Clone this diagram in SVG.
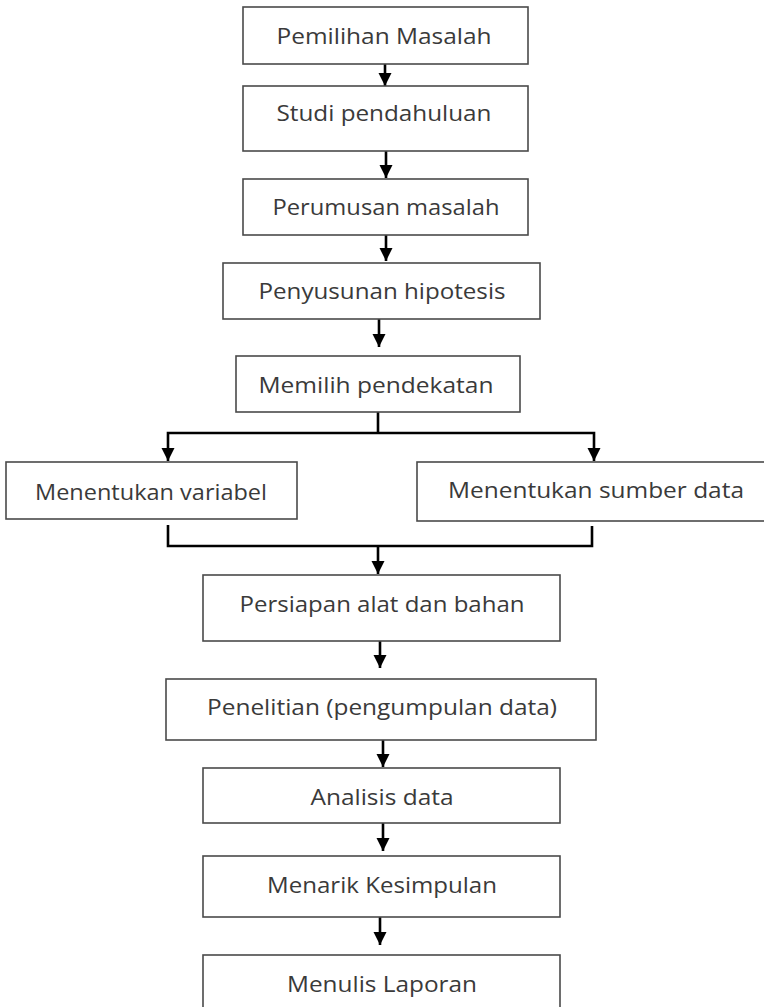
<svg xmlns="http://www.w3.org/2000/svg" width="764" height="1007" viewBox="0 0 764 1007">
<style>
.box{fill:#fff;stroke:#4a4a4a;stroke-width:1.6}
.lbl{font-family:"Open Sans","Liberation Sans",sans-serif;font-size:21px;fill:#3a3a3a;text-anchor:middle}
.con{fill:none;stroke:#000;stroke-width:2.6}
</style>
<defs>
<marker id="ah" markerUnits="userSpaceOnUse" markerWidth="14" markerHeight="14" refX="13" refY="6.5" orient="auto">
<path d="M0,0 L13,6.5 L0,13 z" fill="#000"/>
</marker>
</defs>
<rect width="764" height="1007" fill="#fff"/>
<g id="connectors">
<line class="con" x1="385" y1="64" x2="385" y2="86" marker-end="url(#ah)"/>
<line class="con" x1="386" y1="151" x2="386" y2="178" marker-end="url(#ah)"/>
<line class="con" x1="386" y1="235" x2="386" y2="261" marker-end="url(#ah)"/>
<line class="con" x1="379" y1="319" x2="379" y2="347" marker-end="url(#ah)"/>
<polyline class="con" points="378,412 378,433"/>
<polyline class="con" points="378,433 168,433 168,461" marker-end="url(#ah)"/>
<polyline class="con" points="378,433 594,433 594,461" marker-end="url(#ah)"/>
<polyline class="con" points="168,525 168,546 592,546 592,526"/>
<line class="con" x1="378" y1="546" x2="378" y2="574" marker-end="url(#ah)"/>
<line class="con" x1="380" y1="641" x2="380" y2="668" marker-end="url(#ah)"/>
<line class="con" x1="383" y1="740" x2="383" y2="767" marker-end="url(#ah)"/>
<line class="con" x1="383" y1="823" x2="383" y2="851" marker-end="url(#ah)"/>
<line class="con" x1="380" y1="917" x2="380" y2="945" marker-end="url(#ah)"/>
</g>
<g id="n1"><rect class="box" x="243" y="7" width="285" height="57"/><text class="lbl" x="384" y="44" textLength="215" lengthAdjust="spacingAndGlyphs">Pemilihan Masalah</text></g>
<g id="n2"><rect class="box" x="243" y="86" width="285" height="65"/><text class="lbl" x="384" y="121" textLength="215" lengthAdjust="spacingAndGlyphs">Studi pendahuluan</text></g>
<g id="n3"><rect class="box" x="243" y="179" width="285" height="56"/><text class="lbl" x="386" y="215" textLength="227" lengthAdjust="spacingAndGlyphs">Perumusan masalah</text></g>
<g id="n4"><rect class="box" x="223" y="263" width="317" height="56"/><text class="lbl" x="382" y="299" textLength="247" lengthAdjust="spacingAndGlyphs">Penyusunan hipotesis</text></g>
<g id="n5"><rect class="box" x="236" y="356" width="284" height="56"/><text class="lbl" x="376" y="393" textLength="235" lengthAdjust="spacingAndGlyphs">Memilih pendekatan</text></g>
<g id="n6"><rect class="box" x="6" y="462" width="291" height="57"/><text class="lbl" x="151" y="500" textLength="232" lengthAdjust="spacingAndGlyphs">Menentukan variabel</text></g>
<g id="n7"><rect class="box" x="417" y="462" width="352" height="59"/><text class="lbl" x="596" y="498" textLength="296" lengthAdjust="spacingAndGlyphs">Menentukan sumber data</text></g>
<g id="n8"><rect class="box" x="203" y="575" width="357" height="66"/><text class="lbl" x="382" y="612" textLength="285" lengthAdjust="spacingAndGlyphs">Persiapan alat dan bahan</text></g>
<g id="n9"><rect class="box" x="166" y="679" width="430" height="61"/><text class="lbl" x="382" y="715" textLength="350" lengthAdjust="spacingAndGlyphs">Penelitian (pengumpulan data)</text></g>
<g id="n10"><rect class="box" x="203" y="768" width="357" height="55"/><text class="lbl" x="382" y="805" textLength="143" lengthAdjust="spacingAndGlyphs">Analisis data</text></g>
<g id="n11"><rect class="box" x="203" y="856" width="357" height="61"/><text class="lbl" x="382" y="893" textLength="230" lengthAdjust="spacingAndGlyphs">Menarik Kesimpulan</text></g>
<g id="n12"><rect class="box" x="203" y="955" width="357" height="60"/><text class="lbl" x="382" y="992" textLength="190" lengthAdjust="spacingAndGlyphs">Menulis Laporan</text></g>
</svg>
